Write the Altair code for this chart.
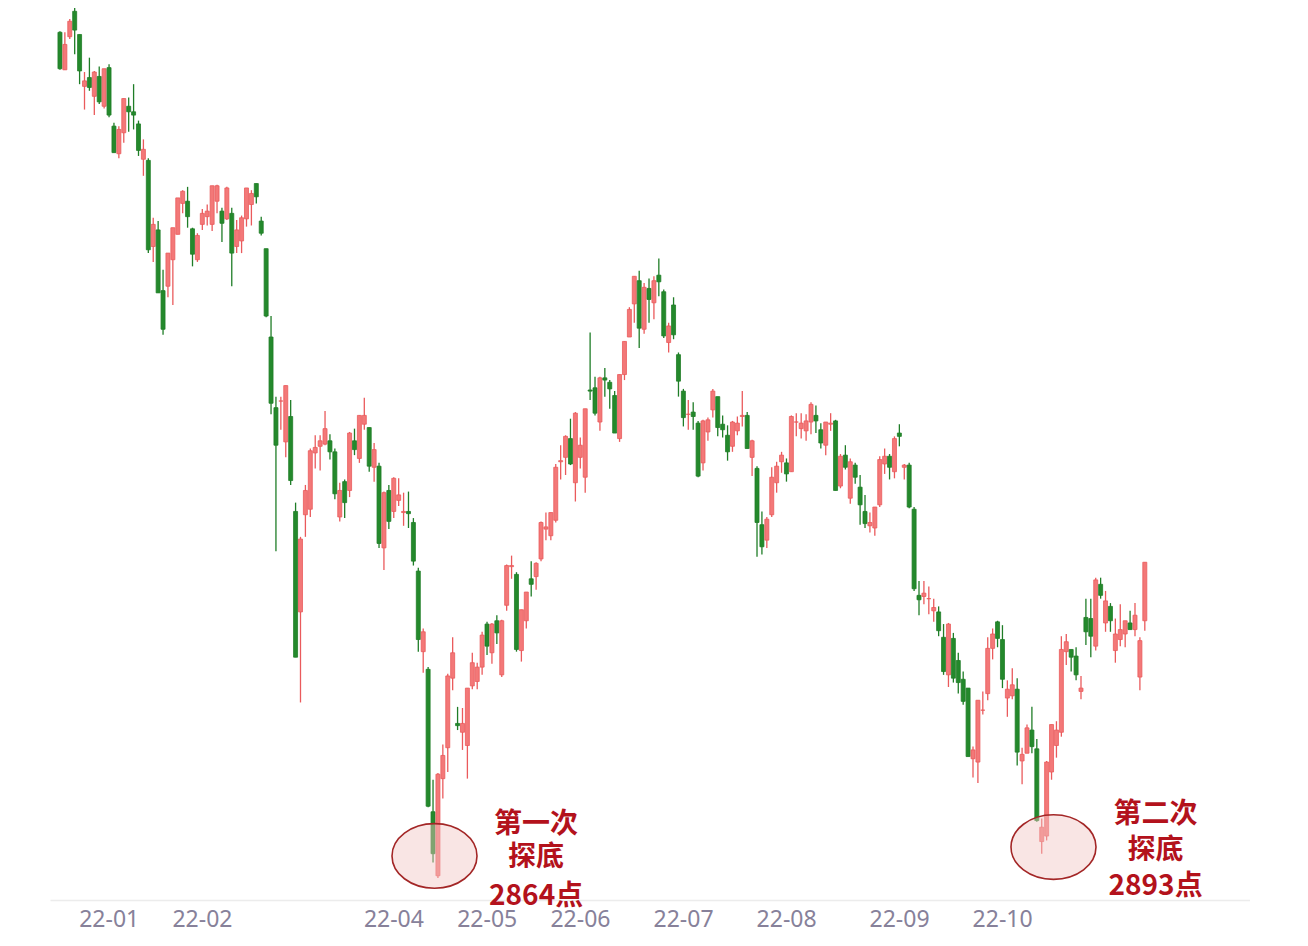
import altair as alt
import pandas as pd

# daily candles, one entry per trading day, 2021-12-29 .. 2022-11-29
opens = [
    3630, 3596, 3626,
    3649, 3628, 3581, 3589, 3572, 3590, 3563, 3598, 3545, 3520, 3539, 3563, 3558, 3547, 3515, 3514, 3436, 3451, 3396,
    3400, 3424, 3447, 3475, 3477, 3452, 3424, 3456, 3463, 3456, 3477, 3468, 3461, 3466, 3436, 3441,
    3461, 3474, 3493, 3459, 3434, 3354, 3290, 3296, 3259, 3282, 3196, 3105, 3193, 3198, 3249, 3255, 3257, 3260, 3250, 3191, 3223, 3215, 3260,
    3244, 3275, 3272, 3236, 3237, 3163, 3215, 3196, 3206, 3195, 3196, 3186, 3142, 3069, 3053, 2924, 2866, 2954, 2982,
    3045, 3004, 2996, 2984, 3038, 3042, 3055, 3094, 3068, 3097, 3048, 3111, 3146, 3139, 3070, 3097, 3135, 3137, 3153,
    3180, 3174, 3188, 3241, 3245, 3262, 3222, 3245, 3227, 3306, 3308, 3277, 3317, 3313, 3301, 3262, 3320, 3354, 3384, 3405, 3361,
    3398, 3385, 3410, 3395, 3349, 3383, 3338, 3305, 3284, 3286, 3276, 3240, 3268, 3288, 3300, 3275, 3265, 3255, 3269, 3282, 3283,
    3245, 3235, 3184, 3170, 3193, 3222, 3241, 3240, 3232, 3277, 3271, 3269, 3277, 3283, 3270, 3256, 3275, 3278, 3219, 3247, 3208, 3238, 3218,
    3196, 3183, 3181, 3202, 3239, 3246, 3232, 3267, 3236, 3238, 3198, 3120, 3119, 3117, 3106, 3105, 3082, 3048, 3081, 3061, 3044,
    3036, 2972, 2969, 3016, 3031, 3072, 3096, 3080, 3027, 3029, 3035, 2970, 2977, 2998, 2981, 2897,
    2902, 2960, 2984, 2996, 3069, 3071, 3065, 3033, 3100, 3099, 3074, 3130, 3095, 3110, 3070, 3080, 3085, 3095, 3089, 3046, 3097,
]
highs = [
    3631, 3630, 3642,
    3652, 3628, 3594, 3607, 3595, 3599, 3597, 3601, 3548, 3545, 3570, 3571, 3583, 3550, 3533, 3516, 3462, 3459, 3415,
    3430, 3453, 3480, 3487, 3490, 3453, 3448, 3470, 3474, 3491, 3492, 3471, 3490, 3471, 3460, 3464,
    3489, 3487, 3493, 3463, 3434, 3373, 3300, 3300, 3310, 3297, 3204, 3173, 3220, 3253, 3265, 3265, 3287, 3266, 3253, 3222, 3225, 3268, 3271,
    3283, 3299, 3272, 3258, 3240, 3214, 3220, 3227, 3226, 3213, 3214, 3190, 3145, 3090, 3055, 2953, 2959, 2985, 3049,
    3082, 3019, 3018, 3036, 3068, 3059, 3087, 3096, 3095, 3102, 3098, 3148, 3156, 3141, 3107, 3123, 3151, 3150, 3187,
    3195, 3195, 3239, 3256, 3265, 3280, 3286, 3263, 3289, 3358, 3318, 3318, 3326, 3315, 3305, 3320, 3350, 3381, 3409, 3414, 3403,
    3407, 3409, 3425, 3397, 3367, 3390, 3340, 3307, 3297, 3295, 3278, 3279, 3281, 3307, 3300, 3283, 3274, 3278, 3282, 3305, 3286,
    3261, 3237, 3196, 3191, 3236, 3241, 3250, 3244, 3283, 3285, 3285, 3284, 3295, 3292, 3276, 3277, 3285, 3279, 3248, 3256, 3244, 3240, 3229,
    3211, 3195, 3200, 3246, 3253, 3248, 3264, 3275, 3239, 3240, 3200, 3133, 3133, 3128, 3117, 3110, 3094, 3095, 3086, 3068, 3051,
    3036, 2983, 3025, 3033, 3082, 3090, 3097, 3093, 3043, 3054, 3045, 2982, 3003, 3019, 2990, 2918,
    2970, 3003, 3006, 3083, 3085, 3071, 3073, 3047, 3117, 3117, 3136, 3136, 3124, 3113, 3099, 3112, 3097, 3106, 3113, 3082, 3150,
]
lows = [
    3596, 3596, 3624,
    3610, 3583, 3560, 3577, 3555, 3565, 3561, 3553, 3521, 3516, 3530, 3540, 3542, 3518, 3500, 3430, 3422, 3394, 3356,
    3390, 3383, 3447, 3466, 3453, 3418, 3422, 3451, 3455, 3450, 3466, 3440, 3460, 3400, 3430, 3430,
    3454, 3455, 3475, 3446, 3372, 3284, 3160, 3270, 3245, 3220, 3064, 3023, 3173, 3191, 3235, 3233, 3256, 3243, 3207, 3187, 3190, 3209, 3247,
    3240, 3270, 3232, 3223, 3163, 3143, 3180, 3190, 3201, 3183, 3181, 3147, 3069, 3050, 2928, 2878, 2864, 2936, 2960,
    3034, 2998, 2980, 2954, 3035, 3035, 3048, 3066, 3058, 3076, 3046, 3106, 3135, 3069, 3060, 3090, 3119, 3125, 3151,
    3170, 3170, 3186, 3225, 3229, 3238, 3205, 3235, 3213, 3297, 3283, 3269, 3300, 3289, 3267, 3259, 3315, 3354, 3367, 3344, 3357,
    3367, 3370, 3391, 3353, 3340, 3352, 3300, 3273, 3270, 3270, 3227, 3233, 3260, 3281, 3264, 3263, 3242, 3250, 3265, 3273, 3253,
    3228, 3155, 3157, 3163, 3191, 3213, 3231, 3223, 3232, 3264, 3262, 3260, 3266, 3267, 3253, 3247, 3269, 3215, 3217, 3234, 3203, 3221, 3184,
    3181, 3177, 3174, 3200, 3230, 3225, 3226, 3255, 3225, 3199, 3124, 3102, 3112, 3103, 3096, 3083, 3048, 3037, 3041, 3031, 3021,
    2974, 2955, 2950, 3012, 3025, 3062, 3073, 3036, 3010, 3026, 2966, 2949, 2977, 2977, 2915, 2886,
    2898, 2953, 2973, 2992, 3057, 3051, 3043, 3026, 3075, 3064, 3070, 3117, 3087, 3087, 3059, 3074, 3073, 3089, 3083, 3034, 3088,
]
closes = [
    3597, 3619, 3640,
    3632, 3595, 3586, 3580, 3594, 3567, 3597, 3555, 3521, 3542, 3570, 3558, 3555, 3523, 3524, 3433, 3456, 3394, 3361,
    3430, 3453, 3480, 3486, 3463, 3429, 3446, 3466, 3468, 3491, 3491, 3457, 3489, 3430, 3451, 3462,
    3489, 3484, 3481, 3448, 3373, 3294, 3256, 3296, 3310, 3224, 3064, 3171, 3215, 3251, 3254, 3260, 3271, 3250, 3212, 3215, 3204, 3267, 3252,
    3283, 3283, 3237, 3252, 3167, 3213, 3187, 3226, 3211, 3196, 3194, 3151, 3080, 3087, 2929, 2886, 2958, 2975, 3047,
    3068, 3002, 3004, 3036, 3059, 3055, 3084, 3074, 3094, 3086, 3097, 3147, 3147, 3071, 3107, 3123, 3130, 3149, 3186,
    3182, 3195, 3236, 3242, 3264, 3239, 3285, 3256, 3289, 3305, 3285, 3317, 3315, 3307, 3267, 3320, 3350, 3379, 3409, 3362, 3399,
    3388, 3405, 3404, 3355, 3364, 3356, 3314, 3281, 3284, 3282, 3228, 3278, 3279, 3305, 3272, 3270, 3250, 3277, 3276, 3283, 3253,
    3260, 3186, 3164, 3189, 3227, 3237, 3247, 3230, 3282, 3277, 3276, 3278, 3293, 3278, 3258, 3277, 3276, 3215, 3246, 3236, 3241, 3227, 3202,
    3185, 3186, 3200, 3243, 3246, 3236, 3262, 3264, 3238, 3200, 3126, 3116, 3122, 3117, 3109, 3088, 3051, 3094, 3045, 3041, 3024,
    2974, 2980, 3025, 3016, 3072, 3085, 3081, 3044, 3035, 3039, 2978, 2976, 3000, 2983, 2916, 2910,
    2969, 3003, 2998, 3071, 3078, 3064, 3048, 3036, 3087, 3083, 3134, 3120, 3115, 3097, 3085, 3089, 3097, 3089, 3102, 3079, 3150,
]

# first trading day of each labelled month (index into the lists above)
tick_days = [3, 22, 61, 80, 99, 120, 141, 164, 185]
tick_labels = ["22-01", "22-02", "22-04", "22-05", "22-06", "22-07", "22-08", "22-09", "22-10"]

# circled lows
circle_days = [76.3, 202.4]
circle_values = [2884, 2892]

# red notes next to the circles
note_days = [97, 97, 97, 223.2, 223.2, 223.2]
note_values = [2912, 2881.7, 2846.8, 2921, 2888.5, 2855.8]
note_texts = ["第一次", "探底", "2864点", "第二次", "探底", "2893点"]

UP_FILL, UP_LINE = "#f37878", "#ea5a5c"
DOWN_FILL, DOWN_LINE = "#24892c", "#1f7d27"

df = pd.DataFrame({"day": range(len(closes)), "open": opens, "high": highs,
                   "low": lows, "close": closes})
df["dir"] = ["up" if c >= o else "down" for o, c in zip(opens, closes)]

circles = pd.DataFrame({"day": circle_days, "value": circle_values})
notes = pd.DataFrame({"day": note_days, "value": note_values, "text": note_texts})

label_expr = "''"
for d, t in reversed(list(zip(tick_days, tick_labels))):
    label_expr = f"datum.value == {d} ? '{t}' : {label_expr}"

x_scale = alt.Scale(domain=[-1.01, 241.41], nice=False, zero=False)
y_scale = alt.Scale(domain=[2844.07, 3652.0], nice=False, zero=False)
x_axis = alt.Axis(values=tick_days, labelExpr=label_expr, title=None, ticks=False,
                  grid=False, domainColor="#ececec", domainWidth=1.5,
                  labelAlign="left", labelOffset=4, labelPadding=8,
                  labelFont="Noto Sans", labelFontSize=23, labelColor="#87819a",
                  labelOverlap=False, labelFlush=False)

x = alt.X("day:Q", scale=x_scale, axis=x_axis)
dir_color = alt.Color("dir:N", legend=None,
                      scale=alt.Scale(domain=["up", "down"], range=[UP_LINE, DOWN_LINE]))

wicks = alt.Chart(df).mark_rule(strokeWidth=1.3).encode(
    x=x,
    y=alt.Y("low:Q", scale=y_scale, axis=None),
    y2="high:Q",
    color=dir_color,
)

bodies = alt.Chart(df).mark_bar(size=4, strokeWidth=0.8).encode(
    x=x,
    y=alt.Y("open:Q", scale=y_scale, axis=None),
    y2="close:Q",
    fill=alt.Fill("dir:N", legend=None,
                  scale=alt.Scale(domain=["up", "down"], range=[UP_FILL, DOWN_FILL])),
    stroke=dir_color.field if False else alt.Stroke(
        "dir:N", legend=None,
        scale=alt.Scale(domain=["up", "down"], range=[UP_LINE, DOWN_LINE])),
)

ellipse = ("M -1 0 C -1 -0.4197 -0.5523 -0.76 0 -0.76 C 0.5523 -0.76 1 -0.4197 1 0 "
           "C 1 0.4197 0.5523 0.76 0 0.76 C -0.5523 0.76 -1 0.4197 -1 0 Z")
rings = alt.Chart(circles).mark_point(
    shape=ellipse, size=7225, filled=True, fill="#f1c6c3", fillOpacity=0.45,
    stroke="#a32626", strokeWidth=1.6, opacity=1,
).encode(
    x=x,
    y=alt.Y("value:Q", scale=y_scale, axis=None),
)

labels = alt.Chart(notes).mark_text(
    font="Noto Sans CJK SC", fontSize=28, fontWeight="bold", color="#b3121c",
    align="center", baseline="middle",
).encode(
    x=x,
    y=alt.Y("value:Q", scale=y_scale, axis=None),
    text="text:N",
)

chart = alt.layer(wicks, bodies, rings, labels).properties(
    width=1200, height=892,
    padding={"left": 42, "top": 0, "right": 0, "bottom": 40},
    autosize=alt.AutoSizeParams(type="none"),
    background="white",
).configure_view(stroke=None)

chart.save("out.html", embed_options={"renderer": "svg", "actions": False})
